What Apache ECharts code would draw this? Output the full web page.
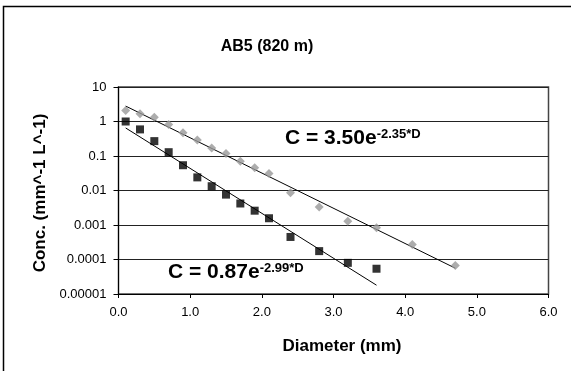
<!DOCTYPE html>
<html>
<head>
<meta charset="utf-8">
<style>
  html, body { margin: 0; padding: 0; background: #fff; }
  #chart { width: 571px; height: 371px; }
</style>
<script src="https://cdn.jsdelivr.net/npm/echarts@6/dist/echarts.min.js"></script>
</head>
<body>
<div id="chart"></div>
<script>
// diameters (mm)
const diamA = [0.1, 0.3, 0.5, 0.7, 0.9, 1.1, 1.3, 1.5, 1.7, 1.9, 2.1, 2.4, 2.8, 3.2, 3.6, 4.1, 4.7];
const concA = [2.1, 1.67, 1.33, 0.82, 0.47, 0.29, 0.17, 0.118, 0.071, 0.046, 0.031, 0.0086, 0.0033, 0.00129, 0.00083, 0.00027, 0.000067];

const diamB = [0.1, 0.3, 0.5, 0.7, 0.9, 1.1, 1.3, 1.5, 1.7, 1.9, 2.1, 2.4, 2.8, 3.2, 3.6];
const concB = [1.0, 0.59, 0.27, 0.129, 0.054, 0.024, 0.0133, 0.0076, 0.0042, 0.0026, 0.00157, 0.00045, 0.000175, 0.00008, 0.000054];

// trend line ends
const trendA = [[0.1, 2.8], [4.7, 0.000056]];
const trendB = [[0.1, 0.65], [3.6, 0.000018]];

const yTickLabels = ['0.00001', '0.0001', '0.001', '0.01', '0.1', '1', '10'];

const FONT = '"Liberation Sans", Arial, sans-serif';

const chart = echarts.init(document.getElementById('chart'), null, { renderer: 'canvas' });

chart.setOption({
  animation: false,
  backgroundColor: '#fff',
  grid: {
    left: 118.5, right: 22.5, top: 87, bottom: 77,
    show: true, borderColor: '#444', borderWidth: 1.5,
  },
  xAxis: {
    type: 'value',
    min: 0, max: 6, interval: 1,
    axisLine: { lineStyle: { color: '#000', width: 1 } },
    axisTick: { show: true, length: 4, lineStyle: { color: '#000' } },
    axisLabel: {
      fontFamily: FONT, fontSize: 13, color: '#000', margin: 12,
      formatter: v => v.toFixed(1),
    },
    splitLine: { show: false },
  },
  yAxis: {
    type: 'log', logBase: 10,
    min: 0.00001, max: 10, interval: 1,
    axisLine: { show: true, lineStyle: { color: '#000', width: 1 } },
    axisTick: { show: true, length: 5, lineStyle: { color: '#000' } },
    axisLabel: {
      fontFamily: FONT, fontSize: 13, color: '#000', margin: 12,
      formatter: v => yTickLabels[Math.round(Math.log10(v)) + 5],
    },
    splitLine: { show: true, lineStyle: { color: '#222', width: 1.2 } },
    minorTick: { show: false },
  },
  graphic: [
    {
      type: 'rect', silent: true,
      shape: { x: 3.5, y: 6.5, width: 700, height: 500 },
      style: { fill: 'none', stroke: '#000', lineWidth: 1.5 },
    },
    {
      type: 'text', x: 267, y: 47, silent: true,
      style: { text: 'AB5 (820 m)', fontFamily: FONT, fontSize: 16, fontWeight: 'bold', fill: '#000', align: 'center', verticalAlign: 'middle' },
    },
    {
      type: 'text', x: 342, y: 346, silent: true,
      style: { text: 'Diameter (mm)', fontFamily: FONT, fontSize: 17, fontWeight: 'bold', fill: '#000', align: 'center', verticalAlign: 'middle' },
    },
    {
      type: 'text', x: 40, y: 193, rotation: Math.PI / 2, silent: true,
      style: { text: 'Conc. (mm^-1 L^-1)', fontFamily: FONT, fontSize: 17, fontWeight: 'bold', fill: '#000', align: 'center', verticalAlign: 'middle' },
    },
    {
      type: 'text', x: 285, y: 128, silent: true,
      style: {
        text: '{b|C = 3.50e}{s|-2.35*D}',
        rich: {
          b: { fontFamily: FONT, fontSize: 21, fontWeight: 'bold', fill: '#000' },
          s: { fontFamily: FONT, fontSize: 13, fontWeight: 'bold', fill: '#000', verticalAlign: 'top' },
        },
      },
    },
    {
      type: 'text', x: 168, y: 262, silent: true,
      style: {
        text: '{b|C = 0.87e}{s|-2.99*D}',
        rich: {
          b: { fontFamily: FONT, fontSize: 21, fontWeight: 'bold', fill: '#000' },
          s: { fontFamily: FONT, fontSize: 13, fontWeight: 'bold', fill: '#000', verticalAlign: 'top' },
        },
      },
    },
  ],
  series: [
    {
      type: 'line', data: trendA, symbol: 'none', silent: true,
      lineStyle: { color: '#000', width: 1 }, z: 1,
    },
    {
      type: 'line', data: trendB, symbol: 'none', silent: true,
      lineStyle: { color: '#000', width: 1 }, z: 1,
    },
    {
      type: 'scatter', data: diamA.map((d, i) => [d, concA[i]]),
      symbol: 'diamond', symbolSize: [9, 9],
      itemStyle: { color: '#999999' }, z: 3,
    },
    {
      type: 'scatter', data: diamB.map((d, i) => [d, concB[i]]),
      symbol: 'rect', symbolSize: 8,
      itemStyle: { color: '#000' }, z: 3,
    },
  ],
});
</script>
</body>
</html>
